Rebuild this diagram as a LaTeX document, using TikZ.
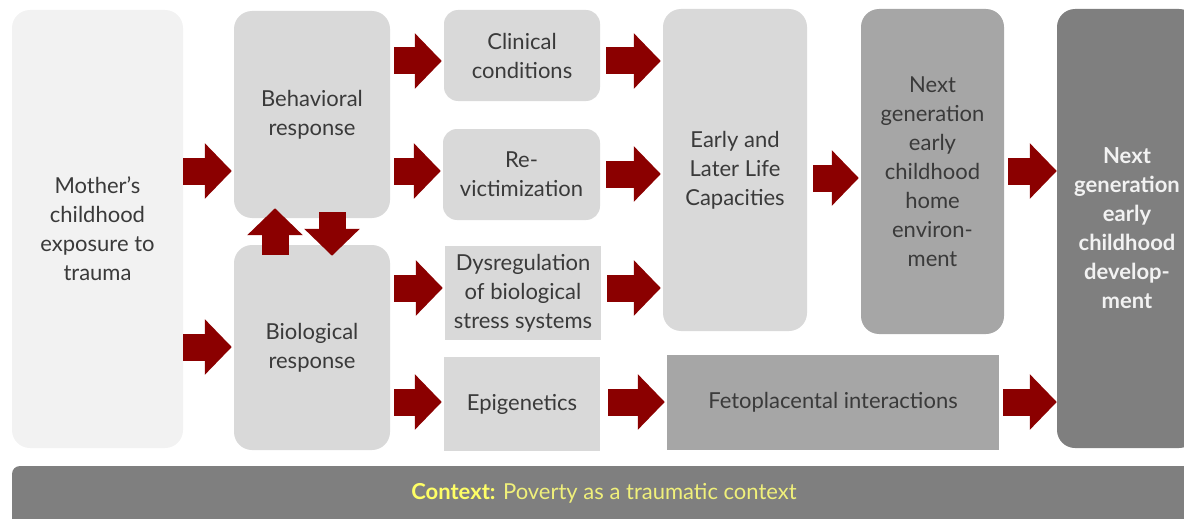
\documentclass[tikz,border=0pt]{standalone}
\usepackage{fontspec}
\setmainfont{Lato}
\usetikzlibrary{arrows.meta,calc}
\definecolor{palebox}{HTML}{F2F2F2}
\definecolor{lightbox}{HTML}{D9D9D9}
\definecolor{midbox}{HTML}{A6A6A6}
\definecolor{darkbox}{HTML}{7F7F7F}
\definecolor{txt}{HTML}{3A3A3A}
\definecolor{arrowred}{HTML}{8B0000}
\definecolor{ctxbold}{HTML}{FFFF66}
\definecolor{ctxtext}{HTML}{F0F07A}
\begin{document}
\begin{tikzpicture}[x=1pt,y=1pt,
  base/.style={align=center, text=txt, inner sep=0pt,
    font=\fontsize{22}{29}\selectfont},
  rbox/.style={base, fill=lightbox, rounded corners=18pt},
  sbox/.style={base, fill=lightbox},
  blk/.style={draw=arrowred, line width=27pt, shorten <=4pt, shorten >=2pt,
    -{Triangle[width=54pt,length=27pt]}}]
\useasboundingbox (0,0) rectangle (1184,-519);
\clip (0,0) rectangle (1184,-519);

% boxes
\node[rbox, fill=palebox, minimum width=171pt, minimum height=438pt] (mother) at (97.5,-229)
  {Mother's\\childhood\\exposure to\\trauma};
\node[rbox, minimum width=156pt, minimum height=207pt] (behav) at (312,-114.5)
  {Behavioral\\response};
\node[rbox, minimum width=156pt, minimum height=205pt] (biol) at (312,-347.5)
  {Biological\\response};
\node[rbox, rounded corners=14pt, minimum width=156pt, minimum height=91pt] (clin) at (522,-55.5)
  {Clinical\\conditions};
\node[rbox, rounded corners=14pt, minimum width=157pt, minimum height=91pt] (revic) at (521.5,-174.5)
  {Re-\\victimization};
\node[sbox, minimum width=156pt, minimum height=94pt] (dysreg) at (523,-293)
  {Dysregulation\\of biological\\stress systems};
\node[sbox, minimum width=156pt, minimum height=94pt] (epi) at (522,-404)
  {Epigenetics};
\node[rbox, minimum width=144pt, minimum height=322pt] (early) at (735,-170)
  {Early and\\Later Life\\Capacities};
\node[rbox, fill=midbox, minimum width=143pt, minimum height=325pt] (home) at (932.5,-171.5)
  {Next\\generation\\early\\childhood\\home\\environ-\\ment};
\node[rbox, fill=darkbox, text=palebox, font=\fontsize{22}{29}\selectfont\bfseries,
  minimum width=140pt, minimum height=439pt] (dev) at (1127,-228.5)
  {Next\\generation\\early\\childhood\\develop-\\ment};
\node[sbox, fill=midbox, minimum width=332pt, minimum height=95pt] (feto) at (833,-402.5)
  {Fetoplacental interactions};
\node[rbox, fill=darkbox, rounded corners=8pt, minimum width=1188pt, minimum height=64pt] (ctx) at (606,-498)
  {};
\node[base, font=\fontsize{22}{26}\selectfont] (ctxlabel) at (604,-493)
  {\textcolor{ctxbold}{\bfseries Context:} \textcolor{ctxtext}{Poverty as a traumatic context}};

% arrow rows
\coordinate (rowA) at (0,-61);
\coordinate (rowB) at (0,-171);
\coordinate (rowB2) at (0,-174);
\coordinate (rowB3) at (0,-178);
\coordinate (rowC) at (0,-288);
\coordinate (rowD) at (0,-347);
\coordinate (rowE) at (0,-402);
\coordinate (colU) at (275,0);
\coordinate (colD) at (332,0);

% block arrows
\draw[blk, shorten <=0pt] (mother.east |- rowB) -- (behav.west |- rowB);
\draw[blk, shorten <=0pt] (mother.east |- rowD) -- (biol.west |- rowD);
\draw[blk] (behav.east |- rowA) -- (clin.west |- rowA);
\draw[blk] (behav.east |- rowB) -- (revic.west |- rowB);
\draw[blk] (biol.east |- rowC) -- (dysreg.west |- rowC);
\draw[blk] (biol.east |- rowE) -- (epi.west |- rowE);
\draw[blk, shorten <=6pt] (clin.east |- rowA) -- (early.west |- rowA);
\draw[blk, shorten <=6pt] (revic.east |- rowB2) -- (early.west |- rowB2);
\draw[blk, shorten <=6pt] (dysreg.east |- rowC) -- (early.west |- rowC);
\draw[blk, shorten <=8pt] (epi.east |- rowE) -- (feto.west |- rowE);
\draw[blk, shorten <=6pt] (early.east |- rowB3) -- (home.west |- rowB3);
\draw[blk, shorten >=0pt] (home.east |- rowB) -- (dev.west |- rowB);
\draw[blk, shorten >=0pt] (feto.east |- rowE) -- (dev.west |- rowE);
\draw[blk, shorten <=0pt, shorten >=0pt]
  ($(biol.north -| colU)+(0,-10)$) -- ($(behav.south -| colU)+(0,10)$);
\draw[blk, shorten <=0pt, shorten >=0pt]
  ($(behav.south -| colD)+(0,6)$) -- ($(biol.north -| colD)+(0,-11)$);
\end{tikzpicture}
\end{document}
